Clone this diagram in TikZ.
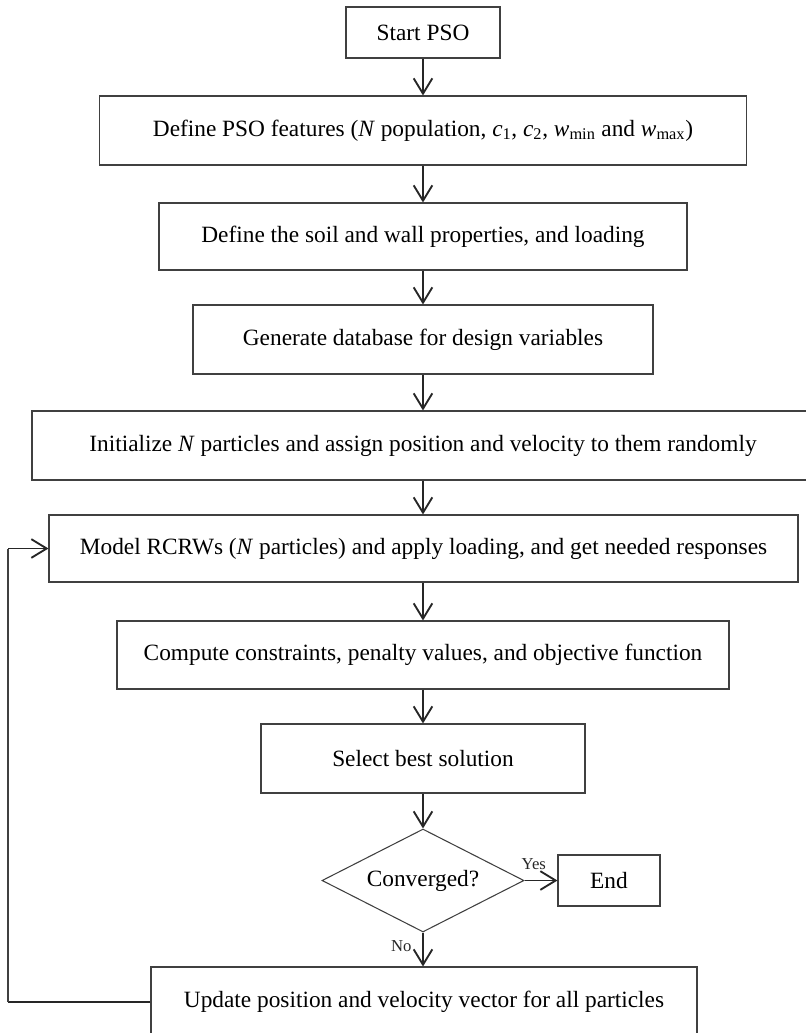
\documentclass[tikz,border=0pt]{standalone}
\usepackage{fontspec}
\setmainfont{Liberation Serif}
\usepackage{tikz}
\usetikzlibrary{shapes.geometric, arrows.meta}

\begin{document}
\begin{tikzpicture}[x=0.75pt,y=-0.75pt,
    box/.style={draw=black!75, line width=0.8pt, rectangle, inner sep=0pt,
        font=\fontsize{17.5}{20}\selectfont},
    decision/.style={draw=black!75, line width=0.8pt, diamond, aspect=2, inner sep=0pt,
        font=\fontsize{17.5}{20}\selectfont},
    arr/.style={line width=1.4pt, black!85, -{Straight Barb[length=11.5pt,width=14pt,line width=1.4pt]}},
    lbl/.style={font=\fontsize{12.5}{14}\selectfont, inner sep=0pt}]
        \useasboundingbox (0,0) rectangle (806,1033);
        % boxes of the flow
        \node[box, minimum width=115.5pt, minimum height=38.25pt] (start) at (423,32.5) {Start PSO};
        \node[box, minimum width=485.25pt, minimum height=51.75pt] (feat) at (423,130.5)
            {Define PSO features (\textit{N} population, \textit{c}\textsubscript{1}, \textit{c}\textsubscript{2}, \textit{w}\textsubscript{min} and \textit{w}\textsubscript{max})};
        \node[box, minimum width=396pt, minimum height=50.25pt] (soil) at (423,236.5) {Define the soil and wall properties, and loading};
        \node[box, minimum width=345pt, minimum height=51.75pt] (gen) at (423,339.5) {Generate database for design variables};
        \node[box, minimum width=586.5pt, minimum height=51.75pt] (init) at (423,445.5)
            {Initialize \textit{N} particles and assign position and velocity to them randomly};
        \node[box, minimum width=561.75pt, minimum height=50.25pt] (model) at (423.5,548.5)
            {Model RCRWs (\textit{N} particles) and apply loading, and get needed responses};
        \node[box, minimum width=459pt, minimum height=51pt] (comp) at (423,655)
            {Compute constraints, penalty values, and objective function};
        \node[box, minimum width=243pt, minimum height=51.75pt] (sel) at (423,758.5) {Select best solution};
        \node[decision, minimum width=151.5pt, minimum height=77.25pt] (conv) at (423,880.5) {Converged?};
        \node[box, minimum width=76.5pt, minimum height=38.25pt] (end) at (609,880.5) {End};
        \node[box, minimum width=409.5pt, minimum height=52.5pt] (upd) at (424,1002)
            {Update position and velocity vector for all particles};
        \coordinate (loopx) at (8,0);

        % connectors
        \draw[arr] (start) -- (start |- feat.north);
        \draw[arr] (feat) -- (feat |- soil.north);
        \draw[arr] (soil) -- (gen);
        \draw[arr] (gen) -- (init);
        \draw[arr] (init) -- (init |- model.north);
        \draw[arr] (init |- model.south) -- (comp);
        \draw[arr] (comp) -- (sel);
        \draw[arr] (sel) -- (conv);
        \draw[arr] (conv) -- node[lbl, anchor=south, pos=0.28, yshift=7.5pt] {Yes} (end);
        \draw[arr] (conv) -- node[lbl, anchor=east, pos=0.4, xshift=-8pt] {No} (conv |- upd.north);
        % loop back to the model step
        \draw[line width=1.6pt, black!85] (upd.west) -- (upd.west -| loopx);
        \draw[line width=0.8pt, black!75] (upd.west -| loopx) -- (model.west -| loopx);
        \draw[arr] (model.west -| loopx) -- (model.west);
\end{tikzpicture}
\end{document}
